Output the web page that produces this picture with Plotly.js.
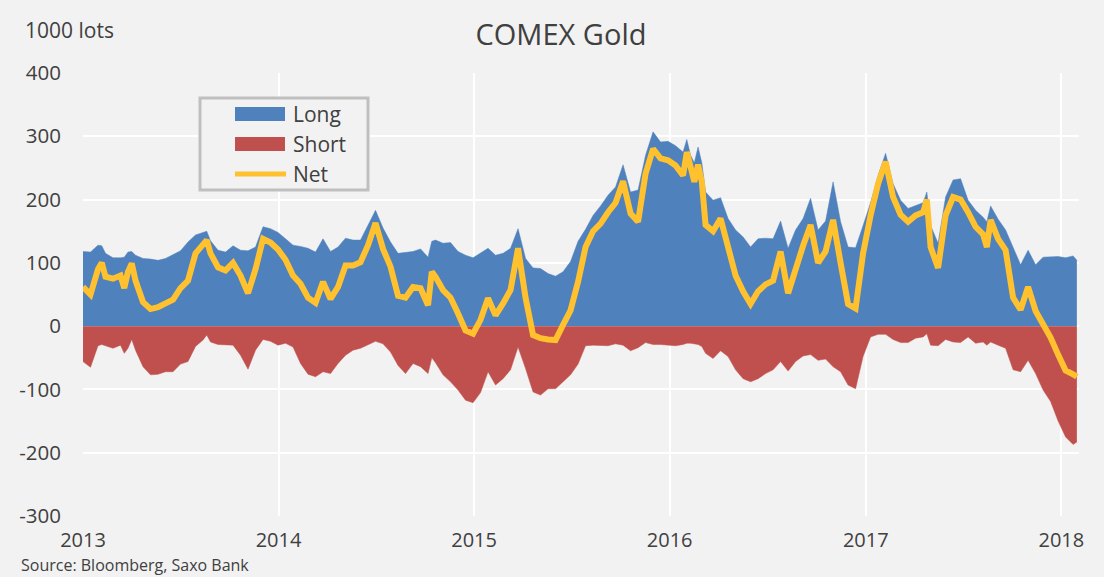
<!DOCTYPE html>
<html><head><meta charset="utf-8">
<script src="https://cdn.plot.ly/plotly-3.0.1.min.js"></script>
<style>html,body{margin:0;padding:0;background:#f2f2f2;} #chart{width:1104px;height:577px;}</style>
</head><body><div id="chart"></div>
<script>
const dates = [
'2013-01-01','2013-01-15','2013-01-29','2013-02-05','2013-02-12','2013-02-26','2013-03-12','2013-03-19','2013-03-26','2013-04-02',
'2013-04-09','2013-04-23','2013-05-07','2013-05-21','2013-06-04','2013-06-18','2013-07-02','2013-07-16','2013-07-30','2013-08-13',
'2013-08-20','2013-08-27','2013-09-10','2013-09-24','2013-10-08','2013-10-22','2013-11-05','2013-11-19','2013-12-03','2013-12-17',
'2013-12-31',
'2014-01-14','2014-01-28','2014-02-11','2014-02-25','2014-03-11','2014-03-25','2014-04-08','2014-04-22','2014-05-06','2014-05-20',
'2014-06-03','2014-06-17','2014-07-01','2014-07-15','2014-07-29','2014-08-12','2014-08-26','2014-09-09','2014-09-23','2014-10-07',
'2014-10-14','2014-10-21','2014-11-04','2014-11-18','2014-12-02','2014-12-16','2014-12-30',
'2015-01-13','2015-01-27','2015-02-10','2015-02-24','2015-03-10','2015-03-24','2015-04-07','2015-04-21','2015-05-05','2015-05-19',
'2015-06-02','2015-06-16','2015-06-30','2015-07-14','2015-07-28','2015-08-11','2015-08-25','2015-09-08','2015-09-22','2015-10-06',
'2015-10-20','2015-11-03','2015-11-17','2015-12-01','2015-12-15','2015-12-29',
'2016-01-12','2016-01-26','2016-02-02','2016-02-09','2016-02-16','2016-02-23','2016-03-01','2016-03-08','2016-03-22','2016-04-05',
'2016-04-19','2016-05-03','2016-05-17','2016-05-31','2016-06-14','2016-06-28','2016-07-12','2016-07-26','2016-08-09','2016-08-23',
'2016-09-06','2016-09-20','2016-10-04','2016-10-18','2016-11-01','2016-11-15','2016-11-29','2016-12-13','2016-12-27',
'2017-01-10','2017-01-24','2017-02-07','2017-02-21','2017-03-07','2017-03-21','2017-04-04','2017-04-18','2017-04-25','2017-05-02',
'2017-05-16','2017-05-30','2017-06-13','2017-06-27','2017-07-11','2017-07-25','2017-08-08','2017-08-15','2017-08-22','2017-09-05',
'2017-09-19','2017-10-03','2017-10-17','2017-10-31','2017-11-14','2017-11-28','2017-12-12','2017-12-26',
'2018-01-09','2018-01-23','2018-01-30'
];
const longPos = [
118,117,128,127,115,108,108,109,117,118,
112,107,106,104,107,113,119,133,144,148,
150,135,120,117,127,120,119,125,157,154,
148,
138,128,126,123,117,138,118,125,139,136,
136,159,183,155,133,115,116,118,122,109,
134,136,131,132,118,112,108,
115,123,112,115,123,154,107,92,91,83,
79,86,102,134,153,175,190,207,220,255,
212,215,270,307,291,292,
285,275,295,270,258,283,258,212,199,203,
170,152,141,125,138,139,138,166,123,152,
170,202,152,166,228,165,125,124,159,
195,238,273,225,199,186,191,195,212,159,
131,204,231,233,199,183,172,165,190,169,
152,123,97,120,97,109,109,110,
108,111,104
];
const shortPos = [
-56,-65,-31,-29,-31,-35,-30,-43,-35,-21,
-38,-64,-77,-76,-72,-72,-60,-56,-32,-22,
-14,-25,-29,-29,-30,-46,-68,-38,-21,-24,
-30,
-27,-33,-59,-76,-80,-72,-75,-59,-46,-38,
-35,-29,-24,-28,-41,-62,-75,-59,-64,-75,
-50,-58,-77,-88,-101,-117,-121,
-105,-72,-93,-83,-69,-33,-67,-104,-109,-99,
-99,-88,-77,-60,-31,-30,-30,-31,-28,-30,
-39,-34,-26,-29,-29,-30,
-31,-29,-27,-27,-28,-29,-32,-43,-51,-39,
-48,-69,-83,-88,-83,-75,-69,-56,-71,-56,
-47,-45,-54,-52,-64,-72,-93,-99,-48,
-17,-13,-13,-21,-26,-26,-19,-17,-12,-30,
-31,-21,-25,-26,-17,-27,-25,-30,-25,-30,
-35,-69,-72,-54,-75,-101,-119,-150,
-175,-187,-183
];
const netPos = [
62,50,90,100,78,75,80,60,86,99,
72,38,27,30,36,42,60,72,115,128,
136,115,93,88,100,80,52,90,138,132,
121,
105,80,67,45,37,70,43,62,96,96,
101,128,163,122,94,48,45,62,60,33,
86,78,57,45,20,-7,-12,
10,44,17,36,57,123,45,-14,-19,-21,
-22,2,25,70,125,150,162,180,195,229,
178,165,241,280,265,262,
254,238,275,252,228,255,228,160,150,170,
123,80,55,35,55,66,72,118,52,93,
127,160,100,118,168,100,35,28,115,
175,225,260,204,176,165,175,180,200,125,
92,175,204,200,180,157,145,125,168,138,
120,45,26,62,24,5,-18,-45,
-70,-76,-80
];
const seriesNames = ['Long', 'Short', 'Net'];
const yTickVals = [-300, -200, -100, 0, 100, 200, 300, 400];
const yTickText = ['-300', '-200', '-100', '0', '100', '200', '300', '400'];
const yearTicks = ['2013-01-01','2014-01-01','2015-01-01','2016-01-01','2017-01-01','2018-01-01'];
const yearText = ['2013','2014','2015','2016','2017','2018'];

const colLong = '#4f81bd', colShort = '#c0504d', colNet = '#ffc12e';
const W = 1104, H = 577, M = {l: 83, r: 25, t: 73, b: 61};
const PW = W - M.l - M.r, PH = H - M.t - M.b;
const fx = px => (px - M.l) / PW;
const fy = py => (H - M.b - py) / PH;
const FONT = 'Open Sans, Noto Sans, sans-serif';
const txt = '#404040';

const traces = [
  {x: dates, y: longPos, name: seriesNames[0], type: 'scatter', mode: 'lines', fill: 'tozeroy',
   fillcolor: colLong, line: {color: colLong, width: 0.5}, showlegend: false, hoverinfo: 'skip'},
  {x: dates, y: shortPos, name: seriesNames[1], type: 'scatter', mode: 'lines', fill: 'tozeroy',
   fillcolor: colShort, line: {color: colShort, width: 0.5}, showlegend: false, hoverinfo: 'skip'},
  {x: dates, y: netPos, name: seriesNames[2], type: 'scatter', mode: 'lines',
   line: {color: colNet, width: 6}, showlegend: false, hoverinfo: 'skip'}
];

const shapes = [
  {type: 'rect', xref: 'paper', yref: 'paper', x0: fx(200), x1: fx(368), y0: fy(190), y1: fy(98),
   line: {color: '#bfbfbf', width: 3}, fillcolor: '#f2f2f2', layer: 'above'},
  {type: 'rect', xref: 'paper', yref: 'paper', x0: fx(235), x1: fx(285), y0: fy(121), y1: fy(107),
   line: {width: 0}, fillcolor: colLong, layer: 'above'},
  {type: 'rect', xref: 'paper', yref: 'paper', x0: fx(235), x1: fx(285), y0: fy(151), y1: fy(137),
   line: {width: 0}, fillcolor: colShort, layer: 'above'},
  {type: 'line', xref: 'paper', yref: 'paper', x0: fx(235), x1: fx(286), y0: fy(174), y1: fy(174),
   line: {color: colNet, width: 5}, layer: 'above'}
];
const annotations = [
  {text: seriesNames[0], xref: 'paper', yref: 'paper', x: fx(291), y: fy(114), xanchor: 'left', yanchor: 'middle', showarrow: false, font: {family: FONT, size: 21, color: txt}},
  {text: seriesNames[1], xref: 'paper', yref: 'paper', x: fx(291), y: fy(144), xanchor: 'left', yanchor: 'middle', showarrow: false, font: {family: FONT, size: 21, color: txt}},
  {text: seriesNames[2], xref: 'paper', yref: 'paper', x: fx(291), y: fy(174), xanchor: 'left', yanchor: 'middle', showarrow: false, font: {family: FONT, size: 21, color: txt}},
  {text: '1000 lots', xref: 'paper', yref: 'paper', x: fx(23), y: fy(30), xanchor: 'left', yanchor: 'middle', showarrow: false, font: {family: FONT, size: 21, color: txt}},
  {text: 'Source: Bloomberg, Saxo Bank', xref: 'paper', yref: 'paper', x: fx(20), y: fy(577), xanchor: 'left', yanchor: 'bottom', showarrow: false, borderpad: 0, font: {family: FONT, size: 16, color: txt}}
];

const layout = {
  width: W, height: H,
  margin: M,
  paper_bgcolor: '#f2f2f2', plot_bgcolor: '#f2f2f2',
  showlegend: false,
  title: {text: 'COMEX Gold', x: 561 / W, xref: 'container', xanchor: 'center', y: 1 - 35 / H, yref: 'container', yanchor: 'middle',
          font: {family: FONT, size: 29, color: txt}},
  xaxis: {type: 'date', range: ['2013-01-01', '2018-02-03'], tickvals: yearTicks, ticktext: yearText,
          showgrid: true, gridcolor: '#ffffff', gridwidth: 2, zeroline: false, showline: false, ticks: '',
          ticklabelstandoff: 10, tickfont: {family: FONT, size: 20, color: txt}},
  yaxis: {range: [-300, 400], tickvals: yTickVals, ticktext: yTickText,
          showgrid: true, gridcolor: '#ffffff', gridwidth: 2, zeroline: false, showline: false, ticks: '',
          ticklabelstandoff: 21, tickfont: {family: FONT, size: 20.5, color: txt}},
  shapes: shapes,
  annotations: annotations
};

Plotly.newPlot('chart', traces, layout, {displayModeBar: false, staticPlot: true});
</script>
</body></html>
